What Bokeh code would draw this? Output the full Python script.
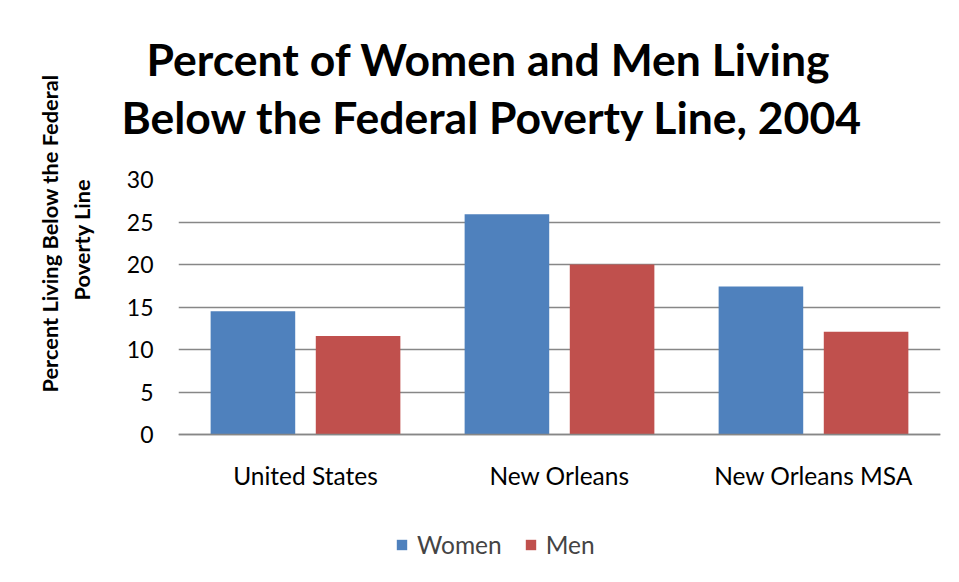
from bokeh.plotting import figure
from bokeh.models import FactorRange, Range1d, Title, Legend, LegendItem, ColumnDataSource, FixedTicker
from bokeh.transform import dodge
from bokeh.embed import file_html
from bokeh.resources import INLINE

categories = ["United States", "New Orleans", "New Orleans MSA"]
women = [14.5, 25.9, 17.4]
men = [11.6, 20.0, 12.1]
series_names = ["Women", "Men"]
y_ticks = [0, 5, 10, 15, 20, 25, 30]
title_lines = ["Percent of Women and Men Living", "Below the Federal Poverty Line, 2004"]
ylabel_lines = ["Percent Living Below the Federal", "Poverty Line"]

BLUE = "#4F81BD"
RED = "#C0504D"
GRID = "#878787"
FONT = "Lato"

src = ColumnDataSource(dict(cat=categories, women=women, men=men))

# frame extends below zero so the category labels and the legend sit inside it
p = figure(frame_width=762, frame_height=391, x_range=FactorRange(*categories, range_padding=0),
           y_range=Range1d(-16, 30), output_backend="svg", toolbar_location=None,
           min_border_left=178, min_border_right=19, min_border_top=179, min_border_bottom=12)
p.title = None
p.outline_line_color = None

r1 = p.vbar(x=dodge("cat", -0.207, range=p.x_range), top="women", width=0.333, source=src,
            fill_color=BLUE, line_color=None)
r2 = p.vbar(x=dodge("cat", 0.207, range=p.x_range), top="men", width=0.333, source=src,
            fill_color=RED, line_color=None)

# spacer between frame and title
p.add_layout(Title(text=" ", text_font_size="1px", standoff=31), "above")
t2 = Title(text=title_lines[1], align="left", text_font=FONT, text_font_size="44.5px",
           text_font_style="bold", text_color="#000000", offset=-57, standoff=6)
p.add_layout(t2, "above")
t1 = Title(text=title_lines[0], align="left", text_font=FONT, text_font_size="44.5px",
           text_font_style="bold", text_color="#000000", offset=-32, standoff=0)
p.add_layout(t1, "above")

# spacer between y axis and its label
p.add_layout(Title(text=" ", text_font_size="1px", standoff=23), "left")
yl2 = Title(text=ylabel_lines[1], align="left", text_font=FONT, text_font_size="21.8px",
            text_font_style="bold", text_color="#000000", offset=270, standoff=6)
p.add_layout(yl2, "left")
yl1 = Title(text=ylabel_lines[0], align="left", text_font=FONT, text_font_size="21.8px",
            text_font_style="bold", text_color="#000000", offset=178, standoff=0)
p.add_layout(yl1, "left")

p.xgrid.grid_line_color = None
p.ygrid.ticker = FixedTicker(ticks=y_ticks)
p.ygrid.grid_line_color = GRID
p.ygrid.grid_line_width = 1.5
p.yaxis.ticker = FixedTicker(ticks=y_ticks)
p.yaxis.axis_line_color = None
p.yaxis.major_tick_line_color = None
p.yaxis.major_tick_out = 0
p.yaxis.minor_tick_line_color = None
p.yaxis.major_label_standoff = 25
p.yaxis.major_label_text_font = FONT
p.yaxis.major_label_text_font_size = "23px"
p.yaxis.major_label_text_color = "#000000"

p.xaxis.fixed_location = 0
p.xaxis.axis_line_color = GRID
p.xaxis.axis_line_width = 1.5
p.xaxis.major_tick_line_color = None
p.xaxis.major_tick_out = 0
p.xaxis.major_label_standoff = 26
p.xaxis.major_label_text_font = FONT
p.xaxis.major_label_text_font_size = "24.5px"
p.xaxis.major_label_text_color = "#000000"

legend = Legend(items=[LegendItem(label=series_names[0], renderers=[r1]),
                       LegendItem(label=series_names[1], renderers=[r2])],
                orientation="horizontal", location=(217, 11), padding=0, margin=0,
                glyph_width=13, glyph_height=13, label_standoff=9, spacing=22,
                label_text_font=FONT, label_text_font_size="24.5px", border_line_color=None,
                background_fill_alpha=0)
p.add_layout(legend, "center")

open("out.html", "w").write(file_html(p, INLINE))
